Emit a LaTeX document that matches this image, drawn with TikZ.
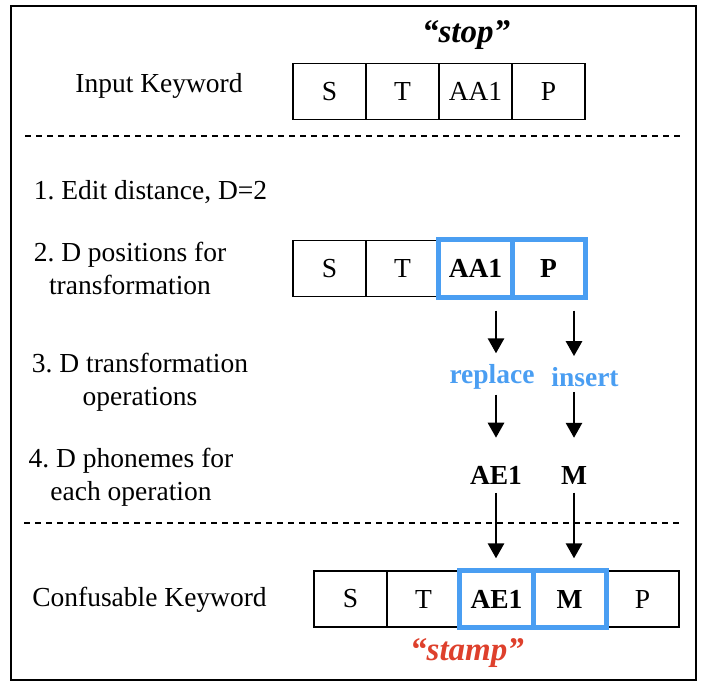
\documentclass[tikz,border=0pt]{standalone}
\usepackage{fontspec}
\setmainfont{Liberation Serif}
\usetikzlibrary{arrows.meta}
\usetikzlibrary{positioning}
\definecolor{selblue}{RGB}{74,158,242}
\definecolor{wordred}{RGB}{222,64,44}
\frenchspacing

\begin{document}
\begin{tikzpicture}[x=1pt,y=-1pt,node distance=73pt,
  every node/.style={inner sep=0pt,font=\fontsize{27.5}{33}\selectfont},
  cell/.style={draw,line width=1.3pt,minimum width=73pt,minimum height=56pt},
  sel/.style={draw=selblue,line width=5pt},
  arr/.style={line width=2.8pt,-{Triangle[length=15pt,width=16pt]}},
  sep/.style={line width=2.5pt,dash pattern=on 6pt off 5pt},
  quot/.style={font=\fontsize{33}{40}\selectfont\bfseries\itshape}]
  \useasboundingbox (0,0) rectangle (708,689);
  \draw[line width=1.8pt] (11,6) rectangle (696,680);

  % input keyword
  \node[quot] (w1) at (466,35) {“stop”};
  \node (ik) at (159,86) {Input Keyword};
  \node[cell] (i1) at (329.5,91.5) {S};
  \node[cell,right of=i1] (i2) {T};
  \node[cell,right of=i2] (i3) {AA1};
  \node[cell,right of=i3] (i4) {P};

  \draw[sep] (25,136) -- (682,136);

  % steps
  \node (st1) at (150.5,192) {1. Edit distance, D=2};
  \node[align=center] (st2) at (130,268) {2. D positions for\\transformation};
  \node[align=center] (st3) at (140,382) {3. D transformation\\operations};
  \node[align=center] (st4) at (131,477) {4. D phonemes for\\each operation};

  \node[cell] (p1) at (329.5,268.5) {S};
  \node[cell,right of=p1] (p2) {T};
  \node[cell,right of=p2] (p3) {\bfseries AA1};
  \node[cell,right of=p3] (p4) {\bfseries P};
  \draw[sel] (p3.north west) rectangle (p4.south east);
  \draw[sel] (p3.north east) -- (p3.south east);

  \node[text=selblue,font=\fontsize{27.5}{33}\selectfont\bfseries] (op1) at (492,377) {replace};
  \node[text=selblue,font=\fontsize{27.5}{33}\selectfont\bfseries] (op2) at (585,377) {insert};
  \node[font=\fontsize{27.5}{33}\selectfont\bfseries] (ph1) at (496,475) {AE1};
  \node[font=\fontsize{27.5}{33}\selectfont\bfseries] (ph2) at (574,475) {M};

  \draw[sep] (24,523) -- (682,523);

  % confusable keyword
  \node (ck) at (149.5,600) {Confusable Keyword};
  \node[cell] (c1) at (350.5,599) {S};
  \node[cell,right of=c1] (c2) {T};
  \node[cell,right of=c2] (c3) {\bfseries AE1};
  \node[cell,right of=c3] (c4) {\bfseries M};
  \node[cell,right of=c4] (c5) {P};
  \draw[sel] (c3.north west) rectangle (c4.south east);
  \draw[sel] (c3.north east) -- (c3.south east);
  \node[quot,text=wordred] (w2) at (467,653) {“stamp”};

  \draw[arr,shorten <=13.5pt,shorten >=11pt] (p3.south -| ph1) -- (op1.north -| ph1);
  \draw[arr,shorten <=13.5pt,shorten >=11pt] (p4.south -| ph2) -- (op2.north -| ph2);
  \draw[arr,shorten <=5pt,shorten >=28pt] (op1.south -| ph1) -- (ph1.north);
  \draw[arr,shorten <=5pt,shorten >=28pt] (op2.south -| ph2) -- (ph2.north);
  \draw[arr,shorten <=8.5pt,shorten >=12pt] (ph1.south) -- (c3.north -| ph1);
  \draw[arr,shorten <=8.5pt,shorten >=12pt] (ph2.south) -- (c4.north -| ph2);
\end{tikzpicture}
\end{document}
